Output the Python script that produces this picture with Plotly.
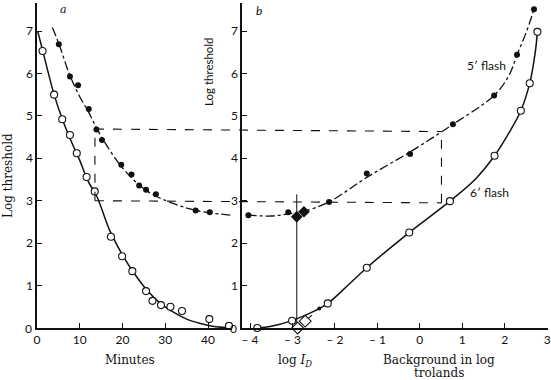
import plotly.graph_objects as go

# ---------------- data ----------------
# Panel a: dark adaptation (minutes vs log threshold)
a_open_min = [1.3, 4.0, 5.9, 7.7, 9.3, 11.6, 13.5, 17.3, 19.9, 22.3, 25.5, 27.0, 29.0, 31.2, 33.9, 40.3, 44.9]
a_open_thr = [6.53, 5.50, 4.92, 4.55, 4.12, 3.56, 3.22, 2.15, 1.69, 1.34, 0.87, 0.64, 0.54, 0.50, 0.40, 0.21, 0.05]
a_fill_min = [5.1, 7.7, 9.6, 12.1, 13.9, 15.2, 19.7, 22.1, 23.9, 25.5, 27.8, 37.1, 40.4]
a_fill_thr = [6.69, 5.93, 5.72, 5.16, 4.68, 4.43, 3.85, 3.62, 3.36, 3.26, 3.15, 2.77, 2.73]
a_solid_curve_min = [0.15, 1.3, 4.0, 6.0, 8.0, 10.0, 12.0, 14.0, 17.0, 20.0, 23.0, 26.0, 29.0, 32.0, 35.0, 38.0, 41.0, 45.5]
a_solid_curve_thr = [7.0, 6.55, 5.5, 4.9, 4.4, 3.95, 3.45, 3.1, 2.3, 1.72, 1.25, 0.86, 0.57, 0.37, 0.21, 0.11, 0.04, 0.0]
a_dash_curve_min = [3.6, 5.1, 7.7, 10.0, 12.0, 14.0, 16.0, 19.0, 22.0, 25.0, 28.0, 32.0, 36.0, 40.0, 45.5]
a_dash_curve_thr = [7.08, 6.7, 5.95, 5.45, 5.1, 4.7, 4.35, 3.9, 3.55, 3.28, 3.1, 2.93, 2.8, 2.72, 2.66]

# Panel b: increment threshold (log background trolands vs log threshold)
b_open_bg = [-3.83, -3.01, -2.17, -1.25, -0.25, 0.71, 1.76, 2.38, 2.59, 2.77]
b_open_thr = [0.0, 0.17, 0.58, 1.42, 2.25, 2.99, 4.06, 5.12, 5.77, 6.98]
b_open_diam_bg = [-2.88, -2.70]
b_open_diam_thr = [0.0, 0.16]
b_fill_bg = [-4.04, -3.10, -2.14, -1.25, -0.23, 0.78, 1.75, 2.29, 2.69]
b_fill_thr = [2.66, 2.73, 2.97, 3.64, 4.10, 4.80, 5.48, 6.44, 7.51]
b_fill_diam_bg = [-2.90, -2.73]
b_fill_diam_thr = [2.62, 2.74]
b_small_bg = [-2.37]
b_small_thr = [0.46]
b_solid_curve_bg = [-3.83, -3.5, -3.0, -2.5, -2.17, -1.7, -1.25, -0.25, 0.71, 1.3, 1.76, 2.1, 2.38, 2.59, 2.72, 2.77]
b_solid_curve_thr = [0.0, 0.04, 0.18, 0.39, 0.58, 1.0, 1.42, 2.25, 2.99, 3.5, 4.06, 4.6, 5.12, 5.77, 6.5, 6.98]
b_dash_curve_bg = [-4.06, -3.5, -3.1, -2.73, -2.14, -1.25, -0.23, 0.78, 1.75, 2.1, 2.29, 2.5, 2.69]
b_dash_curve_thr = [2.66, 2.64, 2.69, 2.75, 2.97, 3.55, 4.15, 4.80, 5.48, 5.95, 6.44, 6.95, 7.51]
b_link_bg = [-2.70, -2.37]
b_link_thr = [0.16, 0.46]
log_id_bg = -2.9
log_id_top = 3.15

# matching levels (dashed guide lines)
match_min = 13.55
match_bg = 0.51
match_hi = [4.69, 4.63]
match_lo = [3.0, 2.95]

a_ticks = [0, 10, 20, 30, 40]
b_ticks = [-4, -3, -2, -1, 0, 1, 2, 3]
b_ticktext = ["\u2013 4", "\u2013 3", "\u2013 2", "\u2013 1", "0", "1", "2", "3"]
y_ticks = [1, 2, 3, 4, 5, 6, 7]

# ---------------- layout ----------------
W, H = 551, 380
ML, MR, MT, MB = 37, 3, 3, 52
A_RANGE = [0, 45.6]
B_RANGE = [-4.19, 3.02]
Y_RANGE = [0, 7.66]
A_DOM = [0.0, 0.3816]
B_DOM = [0.4012, 1.0]

SERIF = "DejaVu Serif"
SANS = "Lato"
BLACK = "#111111"

def to_paper(v, rng, dom):
    return dom[0] + (v - rng[0]) / (rng[1] - rng[0]) * (dom[1] - dom[0])

fig = go.Figure()

open_marker = dict(symbol="circle", size=7, color="white", line=dict(width=1.1, color=BLACK))
fill_marker = dict(symbol="circle", size=6, color=BLACK)

# panel a
fig.add_trace(go.Scatter(x=a_solid_curve_min, y=a_solid_curve_thr, mode="lines", line=dict(color=BLACK, width=1.5, shape="spline"), xaxis="x", yaxis="y"))
fig.add_trace(go.Scatter(x=a_dash_curve_min, y=a_dash_curve_thr, mode="lines", line=dict(color=BLACK, width=1.3, dash="dashdot", shape="spline"), xaxis="x", yaxis="y"))
fig.add_trace(go.Scatter(x=a_open_min, y=a_open_thr, mode="markers", marker=open_marker, xaxis="x", yaxis="y", cliponaxis=False))
fig.add_trace(go.Scatter(x=a_fill_min, y=a_fill_thr, mode="markers", marker=fill_marker, xaxis="x", yaxis="y", cliponaxis=False))

# panel b
fig.add_trace(go.Scatter(x=[log_id_bg, log_id_bg], y=[0, log_id_top], mode="lines", line=dict(color=BLACK, width=1), xaxis="x2", yaxis="y2"))
fig.add_trace(go.Scatter(x=b_solid_curve_bg, y=b_solid_curve_thr, mode="lines", line=dict(color=BLACK, width=1.5, shape="spline"), xaxis="x2", yaxis="y2"))
fig.add_trace(go.Scatter(x=b_dash_curve_bg, y=b_dash_curve_thr, mode="lines", line=dict(color=BLACK, width=1.3, dash="dashdot", shape="spline"), xaxis="x2", yaxis="y2"))
fig.add_trace(go.Scatter(x=b_link_bg, y=b_link_thr, mode="lines", line=dict(color=BLACK, width=1.1, dash="dash"), xaxis="x2", yaxis="y2"))
fig.add_trace(go.Scatter(x=b_open_bg, y=b_open_thr, mode="markers", marker=open_marker, xaxis="x2", yaxis="y2", cliponaxis=False))
fig.add_trace(go.Scatter(x=b_open_diam_bg, y=b_open_diam_thr, mode="markers", marker=dict(symbol="diamond", size=9, color="white", line=dict(width=1.1, color=BLACK)), xaxis="x2", yaxis="y2", cliponaxis=False))
fig.add_trace(go.Scatter(x=b_fill_bg, y=b_fill_thr, mode="markers", marker=fill_marker, xaxis="x2", yaxis="y2", cliponaxis=False))
fig.add_trace(go.Scatter(x=b_fill_diam_bg, y=b_fill_diam_thr, mode="markers", marker=dict(symbol="diamond", size=9, color=BLACK), xaxis="x2", yaxis="y2", cliponaxis=False))
fig.add_trace(go.Scatter(x=b_small_bg, y=b_small_thr, mode="markers", marker=dict(symbol="circle", size=4, color=BLACK), xaxis="x2", yaxis="y2", cliponaxis=False))

# dashed guide lines
dash_line = dict(color=BLACK, width=1.1, dash="dash")
xa = to_paper(match_min, A_RANGE, A_DOM)
xb = to_paper(match_bg, B_RANGE, B_DOM)
fig.add_shape(type="line", xref="paper", yref="y", x0=xa, x1=xb, y0=match_hi[0], y1=match_hi[1], line=dash_line)
fig.add_shape(type="line", xref="paper", yref="y", x0=xa, x1=xb, y0=match_lo[0], y1=match_lo[1], line=dash_line)
fig.add_shape(type="line", xref="x", yref="y", x0=match_min, x1=match_min, y0=match_lo[0], y1=match_hi[0], line=dash_line)
fig.add_shape(type="line", xref="x2", yref="y2", x0=match_bg, x1=match_bg, y0=match_lo[1], y1=match_hi[1], line=dash_line)

axis_common = dict(showgrid=False, zeroline=False, showline=True, linecolor=BLACK, linewidth=1.5,
                   ticks="inside", ticklen=5, tickwidth=1.2, tickcolor=BLACK,
                   tickfont=dict(family=SANS, size=12, color=BLACK))

fig.update_layout(
    width=W, height=H,
    margin=dict(l=ML, r=MR, t=MT, b=MB, autoexpand=False),
    paper_bgcolor="white", plot_bgcolor="white",
    showlegend=False,
    xaxis=dict(domain=A_DOM, range=A_RANGE, tickvals=a_ticks, anchor="y", **axis_common),
    yaxis=dict(domain=[0, 1], range=Y_RANGE, tickvals=y_ticks, anchor="x", **axis_common),
    xaxis2=dict(domain=B_DOM, range=B_RANGE, tickvals=b_ticks, ticktext=b_ticktext, anchor="y2", **axis_common),
    yaxis2=dict(domain=[0, 1], range=Y_RANGE, tickvals=y_ticks, anchor="x2", **axis_common),
)

ann_font_serif = dict(family=SERIF, size=12, color=BLACK)
ann_font_sans = dict(family=SANS, size=12, color=BLACK)
anns = [
    dict(text="Log threshold", x=8, y=176, textangle=-90, font=ann_font_serif),
    dict(text="Log threshold", x=208, y=72, textangle=-90, font=dict(family=SANS, size=11.5, color=BLACK)),
    dict(text="Minutes", x=130, y=360, font=ann_font_serif),
    dict(text="log <i>I</i><sub><i>D</i></sub>", x=295, y=361, font=ann_font_serif),
    dict(text="Background in log", x=439, y=360, font=ann_font_serif),
    dict(text="trolands", x=439, y=373, font=ann_font_serif),
    dict(text="<i>a</i>", x=63, y=10, font=dict(family=SERIF, size=11, color=BLACK)),
    dict(text="<i>b</i>", x=259, y=11, font=dict(family=SANS, size=12, color=BLACK)),
    dict(text="5\u2032 flash", x=486, y=66, font=ann_font_sans),
    dict(text="6\u2032 flash", x=489, y=192, font=ann_font_sans),
    dict(text="0", x=28, y=328, font=dict(family=SANS, size=12, color=BLACK)),
    dict(text="0", x=233, y=328, font=dict(family=SANS, size=12, color=BLACK)),
]
PW, PH = W - ML - MR, H - MT - MB
for a in anns:
    fig.add_annotation(xref="paper", yref="paper", showarrow=False,
                       x=(a["x"] - ML) / PW, y=1 - (a["y"] - MT) / PH,
                       xanchor="center", yanchor="middle",
                       text=a["text"], textangle=a.get("textangle", 0), font=a["font"])

fig.write_html("out.html", config={"displayModeBar": False},
               post_script="document.body.style.margin='0';document.body.style.padding='0';")
